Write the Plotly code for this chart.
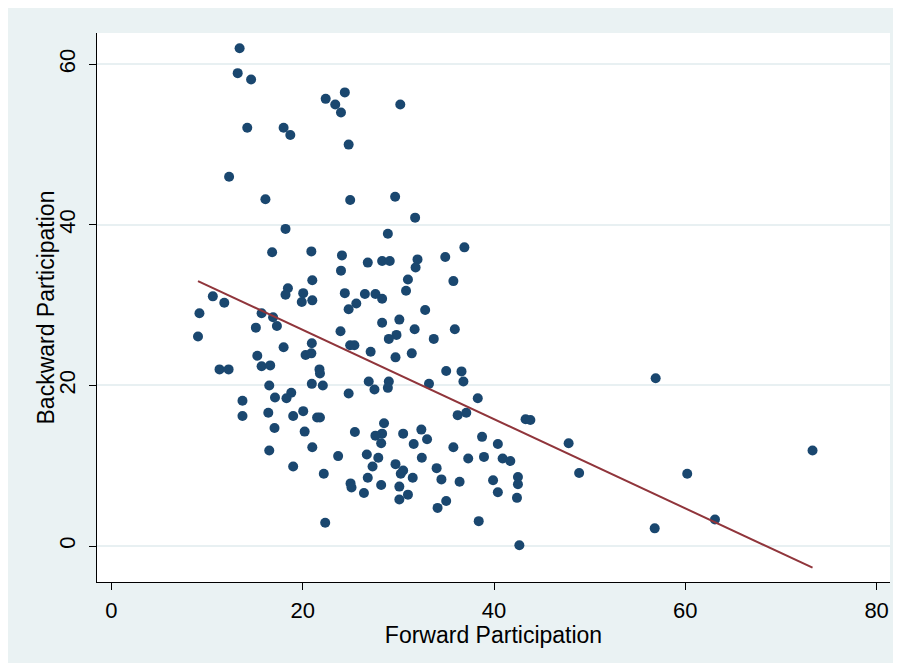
import plotly.graph_objects as go

# Forward participation (x) and backward participation (y) per economy
forward = [13.4, 13.2, 14.6, 14.2, 18.0, 18.7, 12.3, 16.1, 22.4, 23.4,
           24.0, 24.4, 24.8, 30.2, 24.96, 29.66, 31.75, 28.9, 18.2, 16.8,
           20.9, 24.1, 24.0, 26.8, 28.3, 29.1, 32.0, 31.8, 34.9, 36.9,
           21.0, 31.0, 35.75, 30.8, 32.8, 10.6, 11.8, 9.2, 9.05, 15.7,
           16.9, 17.3, 15.1, 18.45, 18.2, 20.05, 19.9, 21.0, 24.4, 26.5,
           27.6, 28.3, 25.6, 24.8, 30.1, 28.3, 31.7, 35.9, 29.8, 29.0,
           33.7, 23.95, 18.0, 15.25, 15.7, 16.6, 20.95, 20.3, 20.9, 24.96,
           25.4, 27.1, 29.7, 31.4, 11.3, 12.25, 16.5, 21.75, 21.8, 20.95,
           22.1, 26.9, 27.5, 29.0, 28.9, 33.2, 24.8, 13.7, 17.1, 18.8,
           18.3, 13.7, 16.4, 19.0, 20.05, 21.5, 21.8, 17.05, 20.2, 16.5,
           21.0, 19.0, 22.2, 22.35, 23.7, 25.45, 26.7, 27.9, 27.3, 26.8,
           25.0, 25.1, 26.4, 28.2, 28.5, 28.3, 27.6, 28.2, 30.5, 32.4,
           33.0, 31.6, 32.45, 29.7, 30.5, 30.25, 31.5, 30.1, 31.0, 30.1,
           36.8, 36.6, 35.0, 38.3, 36.2, 37.1, 43.3, 43.8, 47.8, 48.9,
           35.75, 38.75, 40.4, 37.3, 38.95, 40.9, 41.7, 34.0, 34.5, 36.4,
           39.9, 42.5, 42.5, 40.4, 42.4, 35.0, 34.1, 38.4, 42.65, 56.9,
           60.2, 73.3, 63.1, 56.8]
backward = [62.0, 58.9, 58.1, 52.1, 52.1, 51.2, 46.0, 43.2, 55.7, 55.0,
            54.0, 56.5, 50.0, 55.0, 43.1, 43.5, 40.9, 38.9, 39.5, 36.6,
            36.7, 36.2, 34.3, 35.3, 35.5, 35.5, 35.7, 34.7, 36.0, 37.2,
            33.1, 33.2, 33.0, 31.8, 29.4, 31.1, 30.3, 29.0, 26.1, 29.0,
            28.5, 27.4, 27.2, 32.1, 31.3, 31.5, 30.4, 30.6, 31.5, 31.4,
            31.4, 30.8, 30.2, 29.5, 28.2, 27.8, 27.0, 27.0, 26.3, 25.8,
            25.8, 26.75, 24.75, 23.7, 22.4, 22.5, 25.25, 23.8, 24.0, 25.0,
            25.0, 24.2, 23.5, 24.0, 22.0, 22.0, 20.0, 22.0, 21.5, 20.2,
            20.0, 20.5, 19.5, 20.5, 19.7, 20.2, 19.0, 18.1, 18.5, 19.1,
            18.4, 16.2, 16.6, 16.2, 16.8, 16.0, 16.0, 14.7, 14.25, 11.9,
            12.3, 9.9, 9.0, 2.9, 11.2, 14.2, 11.4, 11.0, 9.9, 8.5,
            7.8, 7.3, 6.6, 7.6, 15.3, 14.0, 13.75, 12.8, 14.0, 14.5,
            13.3, 12.7, 11.0, 10.2, 9.4, 9.0, 8.5, 7.4, 6.4, 5.8,
            20.5, 21.75, 21.8, 18.4, 16.3, 16.6, 15.8, 15.7, 12.8, 9.1,
            12.3, 13.6, 12.7, 10.9, 11.1, 10.9, 10.6, 9.7, 8.3, 8.0,
            8.2, 8.6, 7.7, 6.7, 6.0, 5.6, 4.75, 3.1, 0.1, 20.9,
            9.0, 11.9, 3.3, 2.2]

# Linear fit line endpoints
fit_x = [9.05, 73.3]
fit_y = [33.0, -2.7]

x_ticks = [0, 20, 40, 60, 80]
y_ticks = [0, 20, 40, 60]

BG = "#eaf2f3"
NAVY = "#1a476f"
MAROON = "#90353b"
FONT = "Liberation Sans, Arial, sans-serif"

fig = go.Figure()
fig.add_trace(go.Scatter(
    x=forward, y=backward, mode="markers",
    marker=dict(color=NAVY, size=10, line=dict(width=0)),
    showlegend=False))
fig.add_trace(go.Scatter(
    x=fit_x, y=fit_y, mode="lines",
    line=dict(color=MAROON, width=2),
    showlegend=False))

# the page's default 8px body margin offsets the figure; it overflows right/bottom
W, H = 901, 663
L, T = 89, 25
PW, PH = 793, 549
R, B = W - L - PW, H - T - PH

fig.update_layout(
    width=W, height=H,
    margin=dict(l=L, r=R, t=T, b=B, pad=0),
    paper_bgcolor=BG, plot_bgcolor="white",
    font=dict(family=FONT, size=22, color="black"),
    xaxis=dict(
        range=[-1.51, 81.4], tickvals=x_ticks,
        showgrid=False, zeroline=False,
        showline=True, linecolor="black", linewidth=1.2,
        ticks="outside", ticklen=7, tickcolor="black", tickwidth=1,
        tickfont=dict(size=22), ticklabelstandoff=1,
        title=dict(text="Forward Participation", font=dict(size=23), standoff=1),
    ),
    yaxis=dict(
        range=[-4.48, 63.9], tickvals=y_ticks,
        showgrid=True, gridcolor="#e8f0f2", gridwidth=1.5,
        zeroline=False,
        showline=True, linecolor="black", linewidth=1.2,
        ticks="outside", ticklen=7, tickcolor="black", tickwidth=1,
        tickangle=-90, tickfont=dict(size=22), ticklabelstandoff=5,
    ),
    annotations=[dict(
        text="Backward Participation", xref="paper", yref="paper",
        x=(37 - L) / PW, y=0.5, xanchor="center", yanchor="middle",
        textangle=-90, showarrow=False, font=dict(size=23))],
)

fig.write_html(
    "out.html",
    post_script="document.documentElement.style.overflow='hidden';"
                "document.body.style.overflow='hidden';",
)
